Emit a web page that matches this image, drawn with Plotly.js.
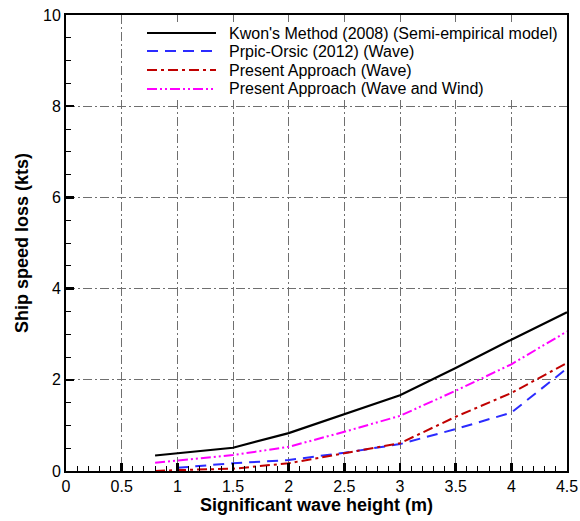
<!DOCTYPE html>
<html>
<head>
<meta charset="utf-8">
<script src="https://cdn.plot.ly/plotly-3.0.1.min.js"></script>
<style>html,body{margin:0;padding:0;background:#fff;}#chart{width:580px;height:521px;}</style>
</head>
<body>
<div id="chart"></div>
<script>
// Data
const kwonX = [0.8, 1.5, 2.0, 2.5, 3.0, 3.5, 4.0, 4.5];
const kwonY = [0.34, 0.51, 0.83, 1.25, 1.66, 2.26, 2.88, 3.48];

const prpicX = [1.0, 1.5, 2.0, 2.5, 3.0, 3.5, 4.0, 4.5];
const prpicY = [0.07, 0.17, 0.24, 0.40, 0.59, 0.92, 1.28, 2.25];

const waveX = [0.8, 1.0, 1.5, 2.0, 2.5, 3.0, 3.5, 4.0, 4.5];
const waveY = [0.0, 0.02, 0.05, 0.17, 0.39, 0.61, 1.19, 1.71, 2.37];

const windX = [0.8, 1.5, 2.0, 2.5, 3.0, 3.5, 4.0, 4.5];
const windY = [0.18, 0.35, 0.53, 0.86, 1.21, 1.76, 2.34, 3.06];

const seriesNames = [
  "Kwon's Method (2008) (Semi-empirical model)",
  "Prpic-Orsic (2012) (Wave)",
  "Present Approach (Wave)",
  "Present Approach (Wave and Wind)"
];
const xTicks = [0, 0.5, 1, 1.5, 2, 2.5, 3, 3.5, 4, 4.5];
const xTickText = ["0", "0.5", "1", "1.5", "2", "2.5", "3", "3.5", "4", "4.5"];
const yTicks = [0, 2, 4, 6, 8, 10];
const yTickText = ["0", "2", "4", "6", "8", "10"];

const styles = [
  {color: '#000000', width: 2.2, dash: 'solid'},
  {color: '#2b2bff', width: 2, dash: '11px,7px'},
  {color: '#c00000', width: 2, dash: '10px,4px,3px,4px'},
  {color: '#ff00ff', width: 2, dash: '10px,3px,2px,3px,2px,3px'}
];
const xs = [kwonX, prpicX, waveX, windX];
const ys = [kwonY, prpicY, waveY, windY];

const traces = xs.map((x, i) => ({
  x: x, y: ys[i], name: seriesNames[i], mode: 'lines',
  line: styles[i], showlegend: false
}));

// Plot-area pixel geometry -> paper coordinates for the legend block
const W = 580, H = 521, mL = 66, mR = 13, mT = 15, mB = 50;
const pw = W - mL - mR, ph = H - mT - mB;
const px = v => (v - mL) / pw;
const py = v => (H - mB - v) / ph;

const shapes = [{
  type: 'rect', xref: 'paper', yref: 'paper', layer: 'above',
  x0: px(140), x1: px(564), y0: py(22), y1: py(98),
  fillcolor: '#ffffff', line: {width: 0}
}];
const annotations = [];
const rowsY = [33, 51, 70, 89];
seriesNames.forEach((n, i) => {
  shapes.push({
    type: 'line', xref: 'paper', yref: 'paper', layer: 'above',
    x0: px(147), x1: px(216), y0: py(rowsY[i]), y1: py(rowsY[i]),
    line: styles[i]
  });
  annotations.push({
    xref: 'paper', yref: 'paper', x: px(227), y: py(rowsY[i]),
    xanchor: 'left', yanchor: 'middle', showarrow: false, text: n,
    font: {family: 'Liberation Sans, Arial, sans-serif', size: 16, color: '#000'}
  });
});

const gridCol = '#6f6f6f';
const layout = {
  width: W, height: H,
  margin: {l: mL, r: mR, t: mT, b: mB},
  paper_bgcolor: '#ffffff', plot_bgcolor: '#ffffff',
  font: {family: 'Liberation Sans, Arial, sans-serif', color: '#000', size: 16},
  showlegend: false,
  shapes: shapes,
  annotations: annotations,
  xaxis: {
    range: [0, 4.5], tickmode: 'array', tickvals: xTicks, ticktext: xTickText,
    ticks: 'inside', ticklen: 8, tickwidth: 2.5, tickcolor: '#000',
    minor: {dtick: 0.1, ticks: 'inside', ticklen: 5, tickwidth: 1, tickcolor: '#000', showgrid: false},
    showline: true, linecolor: '#000', linewidth: 2, mirror: true,
    showgrid: true, gridcolor: gridCol, gridwidth: 1, griddash: '9px,3px,2px,3px',
    zeroline: false,
    tickfont: {size: 16, family: 'Liberation Sans, Arial, sans-serif'},
    title: {text: 'Significant wave height (m)', standoff: 4,
            font: {size: 18, family: 'Liberation Sans, Arial, sans-serif', weight: 'bold'}}
  },
  yaxis: {
    range: [0, 10], tickmode: 'array', tickvals: yTicks, ticktext: yTickText,
    ticks: 'inside', ticklen: 8, tickwidth: 2.5, tickcolor: '#000',
    minor: {dtick: 0.5, ticks: 'inside', ticklen: 5, tickwidth: 1, tickcolor: '#000', showgrid: false},
    showline: true, linecolor: '#000', linewidth: 2, mirror: true,
    showgrid: true, gridcolor: gridCol, gridwidth: 1, griddash: '9px,3px,2px,3px',
    zeroline: false,
    tickfont: {size: 16, family: 'Liberation Sans, Arial, sans-serif'},
    title: {text: 'Ship speed loss (kts)', standoff: 10,
            font: {size: 18, family: 'Liberation Sans, Arial, sans-serif', weight: 'bold'}}
  }
};

Plotly.newPlot('chart', traces, layout, {displayModeBar: false, staticPlot: true});
</script>
</body>
</html>
